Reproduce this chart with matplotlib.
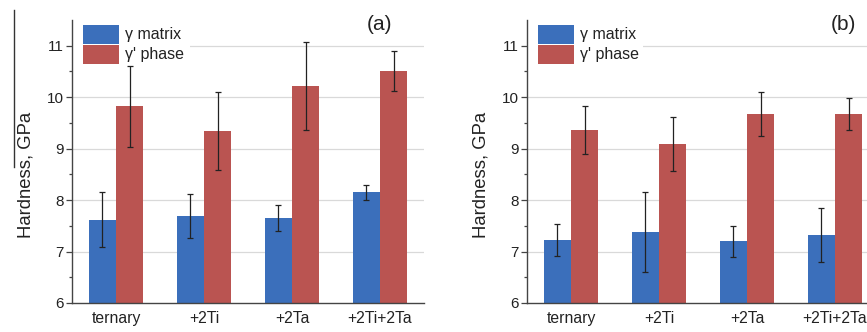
import numpy as np
import matplotlib.pyplot as plt
from matplotlib.lines import Line2D
from matplotlib.patches import Rectangle

plt.rcParams['font.family'] = ['Liberation Sans', 'DejaVu Sans']

# ----------------------
# Data
# ----------------------
categories = ['ternary', '+2Ti', '+2Ta', '+2Ti+2Ta']
series_names = ['γ matrix', "γ' phase"]

gamma_a = [7.62, 7.69, 7.65, 8.15]
gamma_a_err = [0.54, 0.42, 0.25, 0.15]
prime_a = [9.82, 9.34, 10.22, 10.51]
prime_a_err = [0.78, 0.76, 0.85, 0.39]

gamma_b = [7.22, 7.38, 7.20, 7.32]
gamma_b_err = [0.31, 0.78, 0.30, 0.53]
prime_b = [9.36, 9.09, 9.67, 9.67]
prime_b_err = [0.47, 0.52, 0.43, 0.31]

blue = '#3b6fbb'
red = '#ba5451'
dark = '#222222'

W, H = 867, 332
fig = plt.figure(figsize=(W / 100, H / 100), dpi=100)

AX_W, AX_H, AX_BOT, AX_TOP = 352, 283, 303, 20


def panel(x0, gamma, gamma_err, prime, prime_err, tag, tag_x, legend_end):
    ax = fig.add_axes([x0 / W, (H - AX_BOT) / H, AX_W / W, AX_H / H])
    x = np.arange(len(categories))
    w = 0.3
    ax.bar(x - 0.155, gamma, w, color=blue, zorder=2)
    ax.bar(x + 0.155, prime, w, color=red, zorder=2)
    ekw = dict(fmt='none', ecolor=dark, elinewidth=0.9, capsize=2, capthick=0.9, zorder=3)
    ax.errorbar(x - 0.155, gamma, yerr=gamma_err, **ekw)
    ax.errorbar(x + 0.155, prime, yerr=prime_err, **ekw)

    ax.set_xlim(-0.5, 3.5)
    ax.set_ylim(6, 11.5)
    ax.set_yticks([6, 7, 8, 9, 10, 11])
    ax.set_yticks(np.arange(6.5, 11.5, 1.0), minor=True)
    ax.set_xticks(x)
    ax.set_xticklabels(categories, fontsize=11.3, color=dark)
    ax.tick_params(axis='x', length=0, pad=6)
    ax.tick_params(axis='y', which='major', length=4, width=0.9, colors='#444444',
                   labelsize=11, labelcolor=dark, pad=2)
    ax.tick_params(axis='y', which='minor', length=2.5, width=0.9, colors='#444444')
    for s in ['top', 'right']:
        ax.spines[s].set_visible(False)
    for s in ['left', 'bottom']:
        ax.spines[s].set_color('#444444')
        ax.spines[s].set_linewidth(1.0)
    for v in [7, 8, 9, 10, 11]:
        ax.axhline(v, color='#d9d9d9', lw=0.9, zorder=1)

    # legend drawn by hand: white box, two stacked swatches
    def ax_x(px):
        return (px - x0) / AX_W

    def ax_y(py):
        return (AX_BOT - py) / AX_H

    ax.add_patch(Rectangle((0.003, ax_y(66)), ax_x(legend_end) - 0.003, ax_y(20) - ax_y(66),
                           transform=ax.transAxes, facecolor='white', edgecolor='none',
                           zorder=1.5, clip_on=False))
    for i, (name, col) in enumerate(zip(series_names, [blue, red])):
        top = 25 + i * 20
        ax.add_patch(Rectangle((ax_x(x0 + 11), ax_y(top + 19)), 36 / AX_W, 19 / AX_H,
                               transform=ax.transAxes, facecolor=col, edgecolor='none',
                               zorder=4, clip_on=False))
        ax.text(ax_x(x0 + 53), ax_y(top + 10), name, transform=ax.transAxes,
                fontsize=11.5, color=dark, ha='left', va='center', zorder=4)

    fig.text((x0 - 46) / W, 1 - 175 / H, 'Hardness, GPa', rotation=90, fontsize=13.3,
             color=dark, ha='center', va='center')
    fig.text(tag_x / W, 1 - 24 / H, tag, fontsize=15, ha='center', va='center', color=dark)
    return ax


panel(72, gamma_a, gamma_a_err, prime_a, prime_a_err, '(a)', 380, 190)
panel(527, gamma_b, gamma_b_err, prime_b, prime_b_err, '(b)', 843, 643)

# stray rule at the far left of the original scan
fig.add_artist(Line2D([13.5 / W, 13.5 / W], [1 - 10 / H, 1 - 167 / H], color='#333333', lw=1.0))

plt.savefig('out.png', dpi=100)
